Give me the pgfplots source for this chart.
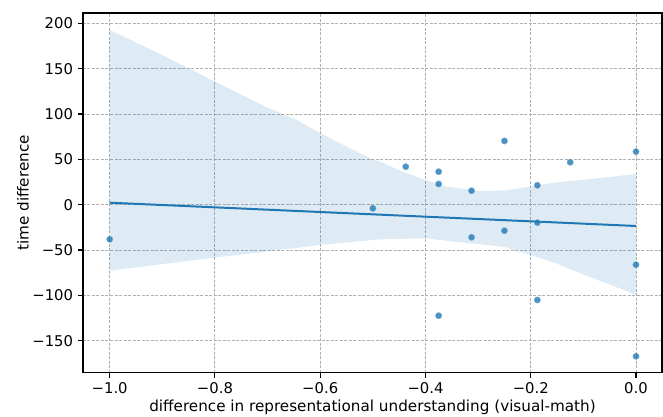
\documentclass[border=0pt]{standalone}
\usepackage{fontspec}
\setmainfont{DejaVu Sans}
\usepackage{pgfplots}
\pgfplotsset{compat=1.18}
\definecolor{tabblue}{HTML}{1F77B4}
\definecolor{gridgray}{HTML}{B0B0B0}
\begin{document}
\begin{tikzpicture}
\path[use as bounding box] (-83pt,-43.3pt) rectangle (580pt,372.7pt);
\begin{axis}[
  at={(0pt,0pt)}, anchor=south west,
  scale only axis, width=579pt, height=359.7pt,
  xmin=-1.0507, xmax=0.0494,
  ymin=-185.3, ymax=211.4,
  axis line style={black, line width=1.1pt},
  tick align=outside, tick pos=left,
  major tick length=4.9pt,
  every tick/.style={black, line width=1.1pt},
  xtick={-1,-0.8,-0.6,-0.4,-0.2,0},
  xticklabels={−1.0,−0.8,−0.6,−0.4,−0.2,0.0},
  ytick={-150,-100,-50,0,50,100,150,200},
  yticklabels={−150,−100,−50,0,50,100,150,200},
  every tick label/.append style={font=\fontsize{14.8pt}{17pt}\selectfont, inner sep=0pt},
  xticklabel style={yshift=-4.9pt},
  yticklabel style={xshift=-4.9pt},
  label style={font=\fontsize{15.2pt}{17pt}\selectfont},
  xlabel={difference in representational understanding (visual-math)},
  xlabel style={yshift=-2.5pt},
  ylabel={time difference},
  grid=major,
  major grid style={gridgray, dash pattern=on 3pt off 1.5pt, line width=0.9pt},
  clip=true,
]
% confidence band
\addplot[draw=none, fill=tabblue, fill opacity=0.15] coordinates {
  (-1.0,192.7) (-0.9,165) (-0.8,135.7) (-0.7,107) (-0.645,93.5) (-0.6,79)
  (-0.55,64) (-0.505,51.2) (-0.486,47.4) (-0.45,38) (-0.4,27.2) (-0.36,19.9)
  (-0.328,17.5) (-0.296,15.1) (-0.252,15.5) (-0.2,19.9) (-0.157,24.3)
  (-0.106,27.2) (-0.05,30.5) (0.0,33.9)
  (0.0,-99.6) (-0.05,-88) (-0.106,-75.7) (-0.15,-65) (-0.2,-55.5) (-0.252,-46.3)
  (-0.296,-43.7) (-0.328,-41.9) (-0.4,-37.1) (-0.455,-37.8) (-0.486,-38.2)
  (-0.6,-44.4) (-0.7,-51.5) (-0.8,-58.4) (-0.9,-65.5) (-1.0,-72.8)
} -- cycle;
% regression line
\addplot[tabblue, line width=2.0pt] coordinates {(-1.0,2.2) (0.0,-23.5)};
% scatter points
\addplot[only marks, mark=*, mark size=3.2pt,
  mark options={fill=tabblue, draw=tabblue!60!white, line width=0.4pt, fill opacity=0.8, draw opacity=0.8}]
  coordinates {
  (-1.0,-38.2) (-0.5,-4.0) (-0.4375,41.9) (-0.375,36.4) (-0.375,22.8)
  (-0.375,-122.4) (-0.3125,15.4) (-0.3125,-36.0) (-0.25,70.3) (-0.25,-28.7)
  (-0.1875,21.4) (-0.1875,-19.8) (-0.1875,-105.1) (-0.125,46.8)
  (0.0,58.5) (0.0,-66.2) (0.0,-167.2)
};
\end{axis}
\end{tikzpicture}
\end{document}
